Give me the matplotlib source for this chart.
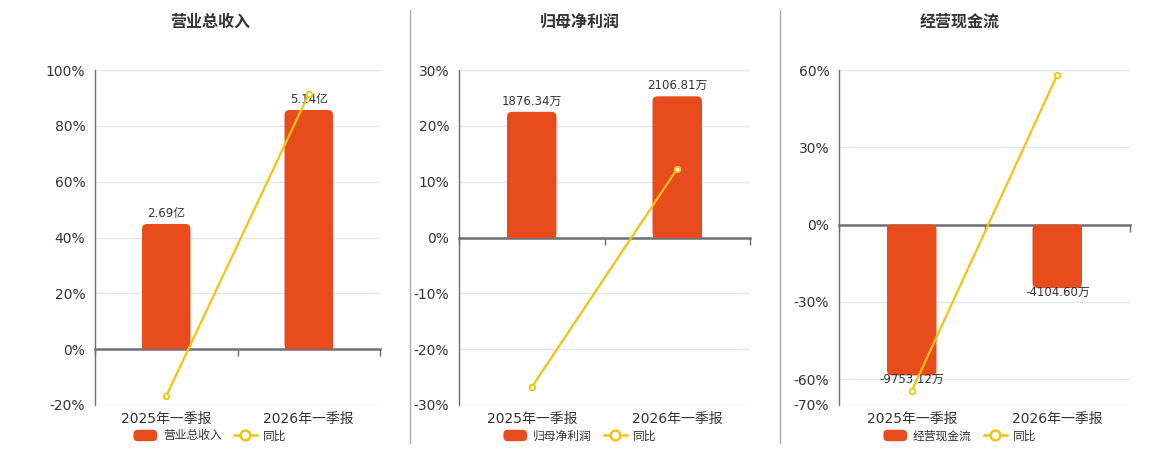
import matplotlib
matplotlib.use('Agg')
import matplotlib.pyplot as plt
import matplotlib.transforms as mtransforms
from matplotlib.patches import FancyBboxPatch, Patch
from matplotlib.lines import Line2D
from matplotlib.legend_handler import HandlerPatch

# ---------------- data ----------------
categories = ['2025年一季报', '2026年一季报']
titles = ['营业总收入', '归母净利润', '经营现金流']
revenue = [2.69, 5.14]            # 亿
revenue_yoy = [-16.8, 91.4]       # %
profit = [1876.34, 2106.81]       # 万
profit_yoy = [-26.8, 12.3]        # %
cashflow = [-9753.12, -4104.60]   # 万
cashflow_yoy = [-64.5, 58.1]      # %
units = ['亿', '万', '万']
yoy_name = '同比'

bar_values = [revenue, profit, cashflow]
yoy_values = [revenue_yoy, profit_yoy, cashflow_yoy]
pct_ticks = [[-20, 0, 20, 40, 60, 80, 100],
             [-30, -20, -10, 0, 10, 20, 30],
             [-70, -60, -30, 0, 30, 60]]
pct_lims = [(-20, 100), (-30, 30), (-70, 60)]
bar_lims = [(-1.2, 6.0), (-2500, 2500), (-70 / 60 * 10000, 10000)]

# ---------------- style ----------------
FONT = ['DejaVu Sans', 'Noto Sans CJK SC']
plt.rcParams['font.family'] = FONT
BAR = '#E84B1C'
LINE = '#F2C40F'
AXIS = '#6E7079'
GRID = '#E0E6F1'
TXT = '#333333'

W, H = 1160, 450
fig = plt.figure(figsize=(W / 100, H / 100), dpi=100)
fig.patch.set_facecolor('white')

axes_px = [(95, 70, 380, 405), (459, 70, 750, 405), (839, 70, 1130, 405)]
centers_px = [210, 580, 960]


class RoundHandler(HandlerPatch):
    def create_artists(self, legend, orig_handle, xdescent, ydescent,
                       width, height, fontsize, trans):
        p = FancyBboxPatch((-xdescent, -ydescent), width, height,
                           boxstyle='round,pad=0,rounding_size=3',
                           facecolor=orig_handle.get_facecolor(),
                           edgecolor='none', transform=trans)
        return [p]


for k in range(3):
    x0, y0, x1, y1 = axes_px[k]
    rect = [x0 / W, 1 - y1 / H, (x1 - x0) / W, (y1 - y0) / H]
    ax = fig.add_axes(rect)
    ax.set_xlim(-0.5, 1.5)
    ax.set_ylim(*pct_lims[k])
    ax.set_yticks(pct_ticks[k])
    ax.set_yticklabels([f'{t}%' for t in pct_ticks[k]])
    ax.grid(axis='y', color=GRID, lw=1)
    ax.set_axisbelow(True)
    for s in ['top', 'right']:
        ax.spines[s].set_visible(False)
    ax.spines['left'].set_color(AXIS)
    ax.spines['left'].set_linewidth(1)
    ax.spines['bottom'].set_position(('data', 0))
    ax.spines['bottom'].set_color(AXIS)
    ax.spines['bottom'].set_linewidth(1.8)
    ax.set_xticks([-0.5, 0.5, 1.5])
    ax.set_xticklabels(['', '', ''])
    ax.tick_params(axis='x', direction='out', length=5, color=AXIS, width=1)
    ax.tick_params(axis='y', length=0, pad=7, labelsize=10, labelcolor=TXT)

    blend = mtransforms.blended_transform_factory(ax.transData, ax.transAxes)
    for i, c in enumerate(categories):
        ax.annotate(c, xy=(i, 0), xycoords=blend, xytext=(0, -5),
                    textcoords='offset points', ha='center', va='top',
                    fontsize=10, color=TXT)

    # bars on hidden axis
    axb = ax.twinx()
    axb.set_ylim(*bar_lims[k])
    axb.axis('off')
    bars = axb.bar(range(len(categories)), bar_values[k], width=0.34,
                   color=BAR, zorder=2)
    p0 = axb.transData.transform((0, 0))
    p1 = axb.transData.transform((1, 1))
    dx = p1[0] - p0[0]
    dy = p1[1] - p0[1]
    m = dx / dy
    r = 5.0 / dx
    for b, v in zip(bars, bar_values[k]):
        bx, bw, bh = b.get_x(), b.get_width(), b.get_height()
        fb = FancyBboxPatch((bx, min(0, bh)), bw, abs(bh),
                            boxstyle=f'round,pad=0,rounding_size={r}',
                            mutation_aspect=m, facecolor=BAR,
                            edgecolor='none', zorder=2)
        axb.add_patch(fb)
        b.set_height(bh / 2)
        if v >= 0:
            axb.annotate(f'{v:.2f}{units[k]}', xy=(bx + bw / 2, bh),
                         xytext=(0, 3), textcoords='offset points',
                         ha='center', va='bottom', fontsize=8.5, color=TXT,
                         zorder=3)
        else:
            axb.annotate(f'{v:.2f}{units[k]}', xy=(bx + bw / 2, bh),
                         xytext=(0, 1.5), textcoords='offset points',
                         ha='center', va='top', fontsize=8.5, color=TXT,
                         zorder=3)

    # yoy line on top
    axl = ax.twinx()
    axl.set_ylim(*pct_lims[k])
    axl.axis('off')
    axl.plot(range(len(categories)), yoy_values[k], color=LINE, lw=1.6,
             marker='o', ms=4, mfc='white', mec=LINE, mew=1.3,
             clip_on=False, zorder=5)

    # title
    fig.text(centers_px[k] / W, 1 - 22 / H, titles[k], ha='center',
             va='center', fontsize=11.5, fontweight='bold', color=TXT,
             family=['Noto Sans CJK SC', 'DejaVu Sans'])

    # legend
    handles = [Patch(facecolor=BAR),
               Line2D([], [], color=LINE, lw=1.8, marker='o', ms=7,
                      mfc='white', mec=LINE, mew=1.8)]
    fig.legend(handles=handles, labels=[titles[k], yoy_name], loc='center',
               bbox_to_anchor=(centers_px[k] / W, 1 - 436 / H), ncol=2,
               frameon=False, fontsize=8.5, handlelength=2.0,
               handleheight=1.1, handletextpad=0.5, columnspacing=1.0,
               borderpad=0, borderaxespad=0, labelcolor=TXT,
               handler_map={Patch: RoundHandler()})

# separators
for xs in [410, 780]:
    fig.add_artist(Line2D([xs / W, xs / W], [1 - 10 / H, 1 - 443 / H],
                          color='#AAAAAA', lw=1, transform=fig.transFigure))

fig.savefig('out.png', dpi=100, facecolor='white')
